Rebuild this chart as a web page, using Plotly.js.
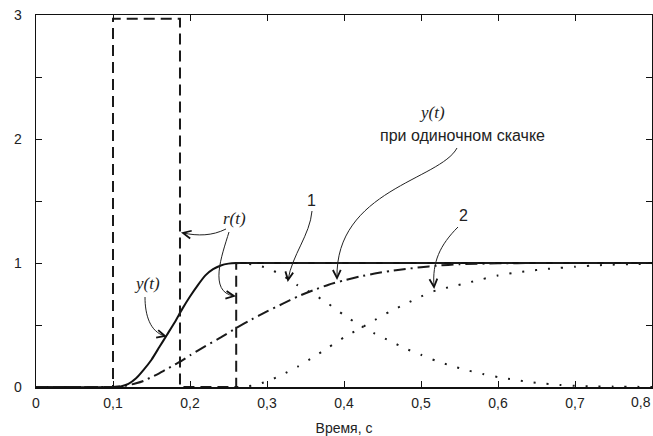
<!DOCTYPE html>
<html>
<head>
<meta charset="utf-8">
<script src="https://cdn.plot.ly/plotly-3.0.1.min.js"></script>
<style>html,body{margin:0;padding:0;background:#fff}#chart{width:653px;height:436px}</style>
</head>
<body>
<div id="chart"></div>
<script>
// ---- data ----
const tY = [0, 0.1, 0.11, 0.12, 0.13, 0.14, 0.15, 0.16, 0.17, 0.18, 0.19, 0.2, 0.21, 0.22, 0.23, 0.24, 0.25, 0.26, 0.8];
const yResp = [0, 0, 0.005, 0.025, 0.07, 0.14, 0.22, 0.32, 0.42, 0.52, 0.63, 0.73, 0.82, 0.9, 0.95, 0.98, 0.995, 1, 1];

const tR = [0, 0.1, 0.1, 0.187, 0.187, 0.26, 0.26, 0.8];
const rInput = [0, 0, 2.97, 2.97, 0, 0, 1, 1];

const tStep = [0, 0.1, 0.11, 0.12, 0.13, 0.14, 0.15, 0.16, 0.17, 0.18, 0.19, 0.2, 0.22, 0.24, 0.26, 0.28, 0.3, 0.32, 0.34, 0.36, 0.38, 0.4, 0.42, 0.44, 0.46, 0.48, 0.5, 0.52, 0.55, 0.6, 0.65, 0.7, 0.8];
const yStep = [0, 0, 0.005, 0.015, 0.03, 0.05, 0.08, 0.11, 0.145, 0.18, 0.215, 0.255, 0.33, 0.40, 0.475, 0.545, 0.61, 0.67, 0.73, 0.78, 0.825, 0.86, 0.89, 0.915, 0.935, 0.952, 0.966, 0.978, 0.99, 0.997, 1, 1, 1];

const t1 = [0.26, 0.28, 0.3, 0.32, 0.34, 0.36, 0.38, 0.4, 0.42, 0.44, 0.46, 0.48, 0.5, 0.52, 0.54, 0.56, 0.58, 0.6, 0.62, 0.64, 0.66, 0.68, 0.7, 0.72, 0.75, 0.8];
const comp1 = [1, 0.99, 0.96, 0.9, 0.82, 0.75, 0.67, 0.58, 0.5, 0.43, 0.37, 0.31, 0.26, 0.21, 0.17, 0.135, 0.105, 0.08, 0.06, 0.04, 0.027, 0.017, 0.01, 0.006, 0.003, 0];

const t2 = [0.26, 0.28, 0.3, 0.32, 0.34, 0.36, 0.38, 0.4, 0.42, 0.44, 0.46, 0.48, 0.5, 0.52, 0.54, 0.56, 0.58, 0.6, 0.62, 0.64, 0.66, 0.68, 0.7, 0.72, 0.74, 0.77, 0.8];
const comp2 = [0, 0.01, 0.045, 0.1, 0.165, 0.24, 0.32, 0.4, 0.47, 0.54, 0.61, 0.67, 0.73, 0.78, 0.81, 0.84, 0.87, 0.9, 0.92, 0.935, 0.95, 0.96, 0.97, 0.978, 0.985, 0.99, 0.995];

const xTickVals = [0, 0.1, 0.2, 0.3, 0.4, 0.5, 0.6, 0.7, 0.8];
const xTickText = ['0', '0,1', '0,2', '0,3', '0,4', '0,5', '0,6', '0,7', '0,8'];
const yTickVals = [0, 0.5, 1, 1.5, 2, 2.5, 3];
const yTickText = ['0', '', '1', '', '2', '', '3'];

// ---- geometry helpers (annotation placement only) ----
const W = 653, H = 436, M = {l: 36, r: 1, t: 15, b: 49};
const XR = [0, 0.8], YR = [0, 3];
const pw = W - M.l - M.r, ph = H - M.t - M.b;
const dx = p => XR[0] + (p - M.l) / pw * (XR[1] - XR[0]);
const dy = p => YR[0] + (H - M.b - p) / ph * (YR[1] - YR[0]);
const P = (a) => dx(a[0]) + ',' + dy(a[1]);

// the last x label sits at the page's right edge: draw it right-aligned as an annotation
const lastIdx = xTickText.length - 1;
const xTickShown = xTickText.map((s, i) => i === lastIdx ? '' : s);

const arrowDefs = [
  [[145, 297], [145, 315], [150, 332], [165, 336]],
  [[226, 229], [212, 236], [198, 236], [183, 233]],
  [[229, 232], [222, 255], [208, 292], [234, 296]],
  [[312, 211], [310, 235], [292, 255], [288, 280]],
  [[457, 148], [440, 180], [335, 190], [337, 278]],
  [[458, 227], [440, 245], [432, 262], [434, 287]]
];
const shapes = [];
arrowDefs.forEach(c => {
  shapes.push({type: 'path', xref: 'x', yref: 'y',
    path: 'M' + P(c[0]) + ' C' + P(c[1]) + ' ' + P(c[2]) + ' ' + P(c[3]),
    line: {color: '#222', width: 1}});
  const e = c[3], q = c[2];
  const ang = Math.atan2(e[1] - q[1], e[0] - q[0]);
  const L = 9, a = 0.45;
  const a1 = [e[0] - L * Math.cos(ang - a), e[1] - L * Math.sin(ang - a)];
  const a2 = [e[0] - L * Math.cos(ang + a), e[1] - L * Math.sin(ang + a)];
  shapes.push({type: 'path', xref: 'x', yref: 'y',
    path: 'M' + P(a1) + ' L' + P(e) + ' L' + P(a2),
    line: {color: '#111', width: 1.8}});
});

const serif = {family: 'Liberation Serif, Times New Roman, serif', size: 17, color: '#222'};
const sans = {family: 'Liberation Sans, Arial, sans-serif', size: 16, color: '#222'};
const ann = (px, py, text, font) => ({x: dx(px), y: dy(py), xref: 'x', yref: 'y', text, showarrow: false, font, xanchor: 'center', yanchor: 'middle'});
const annotations = [
  ann(147, 283, '<i>y(t)</i>', serif),
  ann(234, 218, '<i>r(t)</i>', serif),
  ann(311, 200, '1', sans),
  ann(463, 215, '2', sans),
  ann(432, 112, '<i>y(t)</i>', serif),
  ann(462, 135, 'при одиночном скачке', sans),
  {x: xTickVals[lastIdx], y: 0, xref: 'x', yref: 'paper', text: xTickText[lastIdx], showarrow: false,
   xanchor: 'right', yanchor: 'middle', yshift: -15, xshift: 1,
   font: {family: 'Liberation Sans, Arial, sans-serif', size: 14, color: '#222'}}
];

const traces = [
  {x: tStep, y: yStep, mode: 'lines', line: {color: '#1a1a1a', width: 2, dash: '12px,5px,2px,5px', shape: 'spline', smoothing: 0.6}},
  {x: t1, y: comp1, mode: 'lines', line: {color: '#1a1a1a', width: 2, dash: '2px,11px', shape: 'spline', smoothing: 0.6}},
  {x: t2, y: comp2, mode: 'lines', line: {color: '#1a1a1a', width: 2, dash: '2px,11px', shape: 'spline', smoothing: 0.6}},
  {x: tY, y: yResp, mode: 'lines', line: {color: '#111', width: 2, shape: 'spline', smoothing: 0.6}},
  {x: tR, y: rInput, mode: 'lines', line: {color: '#1a1a1a', width: 2, dash: '11px,6px'}}
];

const layout = {
  width: W, height: H,
  margin: M,
  paper_bgcolor: '#fff', plot_bgcolor: '#fff',
  showlegend: false,
  font: {family: 'Liberation Sans, Arial, sans-serif', size: 14, color: '#222'},
  xaxis: {range: XR, tickvals: xTickVals, ticktext: xTickShown, ticks: 'inside', ticklen: 6,
    tickcolor: '#111', showline: true, linecolor: '#111', linewidth: 1.5, mirror: 'ticks',
    showgrid: false, zeroline: false, fixedrange: true, ticklabelstandoff: 3,
    title: {text: 'Время, с', font: {size: 14}, standoff: 14}},
  yaxis: {range: YR, tickvals: yTickVals, ticktext: yTickText, ticks: 'inside', ticklen: 6,
    tickcolor: '#111', showline: true, linecolor: '#111', linewidth: 1.5, mirror: 'ticks',
    showgrid: false, zeroline: false, fixedrange: true, ticklabelstandoff: 10},
  shapes, annotations
};

Plotly.newPlot('chart', traces, layout, {staticPlot: true, displayModeBar: false});
</script>
</body>
</html>
